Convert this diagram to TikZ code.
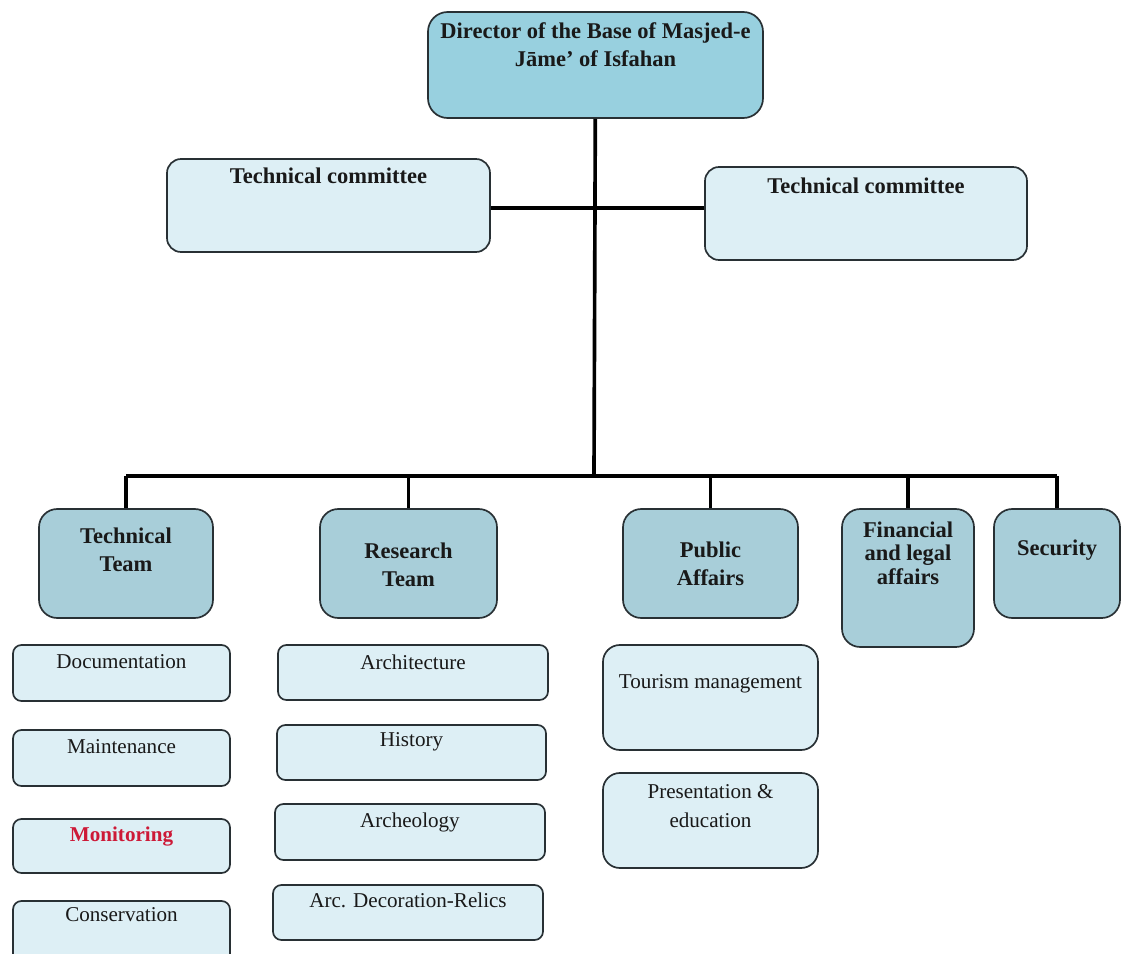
\documentclass[tikz,border=0pt]{standalone}
\usepackage{fontspec}
\setmainfont{Liberation Serif}
\usepackage{xcolor}
\usepackage{tikz}

\definecolor{dirfill}{RGB}{152,208,223}
\definecolor{teamfill}{RGB}{168,206,217}
\definecolor{subfill}{RGB}{221,239,245}
\definecolor{edge}{RGB}{40,48,52}
\definecolor{alert}{RGB}{205,25,55}
\newcommand{\pxu}{0.025cm}

\begin{document}
\begin{tikzpicture}[x=\pxu, y=-\pxu,
  orgbox/.style 2 args={minimum width=#1*\pxu, minimum height=#2*\pxu, inner sep=0pt, line width=1.2pt, draw=edge},
  head/.style={fill=teamfill, rounded corners=13pt},
  sub/.style={fill=subfill, rounded corners=6pt},
  htxt/.style={anchor=north, inner sep=0pt, align=center, text=black!90, font=\bfseries\fontsize{16}{20}\selectfont},
  stxt/.style={anchor=north, inner sep=0pt, align=center, text=black!90, font=\fontsize{15}{20.5}\selectfont},
  link/.style={line width=2.6pt}]
  \useasboundingbox[fill=white] (0,0) rectangle (1121,954);

  % top of the chart
  \node[orgbox={335}{106}, head, fill=dirfill, rounded corners=14pt, label={[htxt, yshift=-11*\pxu]north:{Director of the Base of Masjed-e\\Jāme' of Isfahan}}] (dir) at (595.5,65) {};
  \node[orgbox={323}{93}, sub, rounded corners=10pt, label={[htxt, yshift=-9*\pxu]north:Technical committee}] (tcL) at (328.5,205.5) {};
  \node[orgbox={322}{93}, sub, rounded corners=10pt, label={[htxt, yshift=-11*\pxu]north:Technical committee}] (tcR) at (866,213.5) {};

  % teams
  \node[orgbox={174}{109}, head, label={[htxt, yshift=-19*\pxu]north:{Technical\\Team}}] (tech) at (126,563.5) {};
  \node[orgbox={177}{109}, head, label={[htxt, yshift=-34*\pxu]north:{Research\\Team}}] (research) at (408.5,563.5) {};
  \node[orgbox={175}{109}, head, label={[htxt, yshift=-33*\pxu]north:{Public\\Affairs}}] (public) at (710.5,563.5) {};
  \node[orgbox={132}{138}, head, label={[htxt, yshift=-13*\pxu, font=\bfseries\fontsize{16}{17}\selectfont]north:{Financial\\and legal\\affairs}}] (fin) at (908,578) {};
  \node[orgbox={126}{109}, head, label={[htxt, yshift=-31*\pxu]north:Security}] (sec) at (1057,563.5) {};

  % units of the technical team
  \node[orgbox={217}{56}, sub, label={[stxt, yshift=-10*\pxu]north:Documentation}] (doc) at (121.5,673) {};
  \node[orgbox={217}{56}, sub, label={[stxt, yshift=-10*\pxu]north:Maintenance}] (maint) at (121.5,758) {};
  \node[orgbox={217}{54}, sub, label={[stxt, yshift=-8*\pxu, text=alert, font=\bfseries\fontsize{15}{20}\selectfont]north:Monitoring}] (monit) at (121.5,846) {};
  \node[orgbox={217}{62}, sub, label={[stxt, yshift=-7*\pxu]north:Conservation}] (conserv) at (121.5,932) {};

  % units of the research team
  \node[orgbox={270}{55}, sub, label={[stxt, yshift=-10*\pxu]north:Architecture}] (archi) at (413,672.5) {};
  \node[orgbox={269}{55}, sub, label={[stxt, yshift=-8*\pxu]north:History}] (hist) at (411.5,752.5) {};
  \node[orgbox={270}{56}, sub, label={[stxt, yshift=-9*\pxu]north:Archeology}] (archeo) at (410,832) {};
  \node[orgbox={270}{55}, sub, label={[stxt, yshift=-8*\pxu]north:Arc. Decoration-Relics}] (relics) at (408,912.5) {};

  % units of public affairs
  \node[orgbox={215}{105}, sub, rounded corners=12pt, label={[stxt, yshift=-30*\pxu]north:Tourism management}] (tour) at (710.5,697.5) {};
  \node[orgbox={215}{95}, sub, rounded corners=12pt, label={[stxt, yshift=-12*\pxu]north:{Presentation \&\\education}}] (pres) at (710.5,820.5) {};

  % connectors
  \coordinate (cross) at (594,208);
  \coordinate (bus) at (594,476);
  \draw[link] (dir) -- (bus);
  \draw[link] (tcL.east |- cross) -- (tcR.west |- cross);
  \draw[link] (tech.north |- bus) -- (sec.north |- bus);
  \foreach \n in {tech,research,public,fin,sec}
    \draw[link] (\n.north) -- (\n.north |- bus);
\end{tikzpicture}
\end{document}
